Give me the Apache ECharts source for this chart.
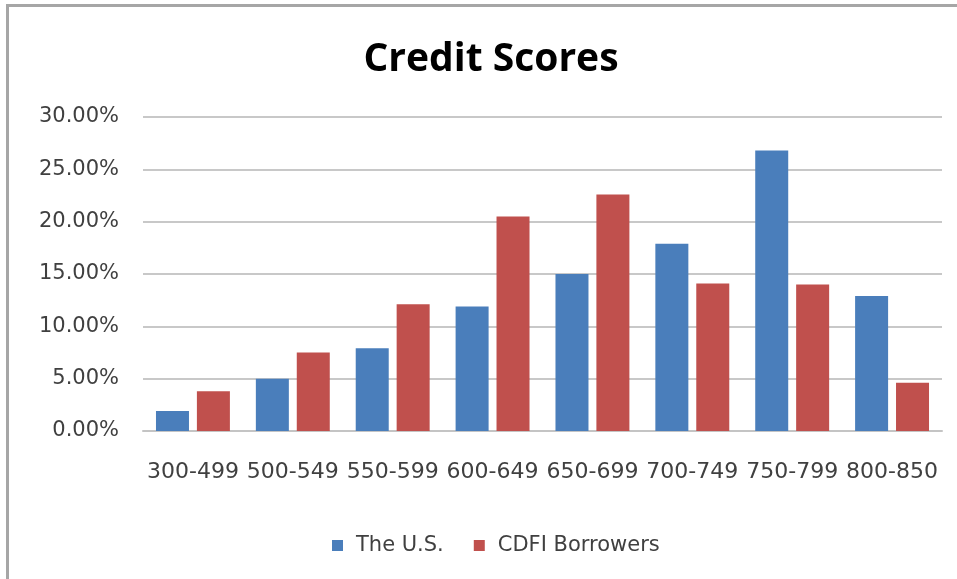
<!DOCTYPE html>
<html>
<head>
<meta charset="utf-8">
<script src="https://cdn.jsdelivr.net/npm/echarts@6/dist/echarts.min.js"></script>
<style>
  html, body { margin: 0; padding: 0; background: #fff; }
  #frame {
    position: absolute; left: 6px; top: 4px; width: 951px; height: 575px;
    border-top: 3px solid #a6a6a6; border-left: 3px solid #a6a6a6;
    box-sizing: border-box;
  }
  #chart { position: absolute; left: 0; top: 0; width: 957px; height: 579px; }
</style>
</head>
<body>
<div id="chart"></div>
<div id="frame"></div>
<script>
const categories = ["300-499", "500-549", "550-599", "600-649", "650-699", "700-749", "750-799", "800-850"];
const usValues = [1.9, 5.0, 7.9, 11.9, 15.0, 17.9, 26.8, 12.9];
const cdfiValues = [3.8, 7.5, 12.1, 20.5, 22.6, 14.1, 14.0, 4.6];
const seriesNames = ["The U.S.", "CDFI Borrowers"];

const labelFont = "DejaVu Sans";
const chart = echarts.init(document.getElementById("chart"), null, { renderer: "canvas" });

chart.setOption({
  animation: false,
  color: ["#4a7ebb", "#c0504d"],
  title: {
    text: "Credit Scores",
    top: 35,
    left: 486,
    textAlign: "center",
    textStyle: { fontFamily: "Open Sans", fontWeight: "bold", fontSize: 39, color: "#000" },
  },
  grid: { left: 143, right: 15, top: 117, bottom: 148 },
  legend: {
    data: seriesNames,
    top: 530,
    left: 327,
    padding: [5, 5, 5, 5],
    itemWidth: 11,
    itemHeight: 11,
    itemGap: 30,
    icon: "rect",
    textStyle: { fontFamily: labelFont, fontSize: 21, color: "#404040", padding: [0, 0, 0, 8] },
  },
  xAxis: {
    type: "category",
    data: categories,
    axisTick: { show: false },
    axisLine: { lineStyle: { color: "#c4c4c4", width: 2 } },
    axisLabel: { fontFamily: labelFont, fontSize: 22, color: "#404040", margin: 30, interval: 0 },
  },
  yAxis: {
    type: "value",
    min: 0,
    max: 30,
    interval: 5,
    axisLine: { show: false },
    axisTick: { show: false },
    splitLine: { lineStyle: { color: "#c8c8c8", width: 2 } },
    axisLabel: {
      fontFamily: labelFont, fontSize: 21, color: "#404040", margin: 24,
      formatter: (v) => v.toFixed(2) + "%",
    },
  },
  series: [
    { name: seriesNames[0], type: "bar", data: usValues, barWidth: 33, barGap: "24%" },
    { name: seriesNames[1], type: "bar", data: cdfiValues, barWidth: 33, barGap: "24%" },
  ],
});
</script>
</body>
</html>
